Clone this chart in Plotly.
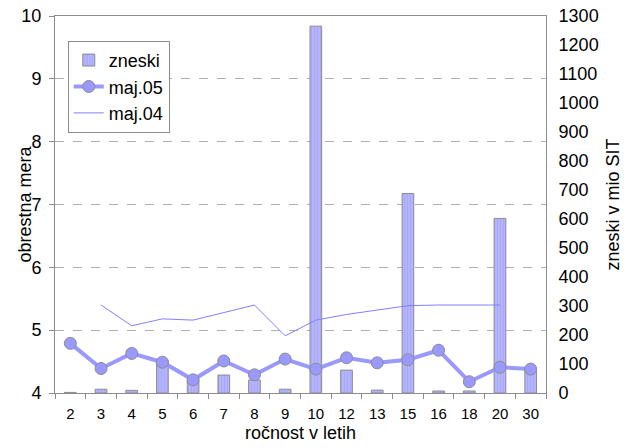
import plotly.graph_objects as go

categories = ["2", "3", "4", "5", "6", "7", "8", "9", "10", "12", "13", "15", "16", "18", "20", "30"]
zneski = [2, 13, 9, 110, 45, 62, 45, 13, 1265, 79, 10, 688, 7, 7, 602, 76]
maj05 = [4.79, 4.39, 4.63, 4.49, 4.21, 4.51, 4.29, 4.54, 4.38, 4.56, 4.48, 4.53, 4.68, 4.18, 4.41, 4.38]
maj04 = [None, 5.40, 5.07, 5.18, 5.16, 5.28, 5.40, 4.91, 5.16, 5.25, 5.32, 5.39, 5.40, 5.40, 5.40, None]

left_ticks = [4, 5, 6, 7, 8, 9, 10]
right_ticks = list(range(0, 1301, 100))

FONT = "Liberation Sans, Arial, sans-serif"
GRAY = "#8c8c8c"

fig = go.Figure()
fig.add_trace(go.Bar(
    x=categories, y=zneski, name="zneski", yaxis="y",
    width=0.38,
    marker=dict(color="#b0b0ff", line=dict(color=GRAY, width=1),
                pattern=dict(shape="|", fgcolor="#9a9af5", bgcolor="#b4b4ff", size=3, solidity=0.3)),
))
fig.add_trace(go.Scatter(
    x=categories, y=maj05, name="maj.05", yaxis="y2", mode="lines+markers",
    line=dict(color="#9999ff", width=4),
    marker=dict(size=12, color="#9999ff", line=dict(color=GRAY, width=1)),
))
fig.add_trace(go.Scatter(
    x=categories, y=maj04, name="maj.04", yaxis="y2", mode="lines",
    line=dict(color="#8080ff", width=1),
))

fig.update_layout(
    width=632, height=448,
    margin=dict(l=55, r=86, t=16, b=55, autoexpand=False),
    paper_bgcolor="white", plot_bgcolor="white",
    font=dict(family=FONT, size=18, color="black"),
    showlegend=True,
    legend=dict(x=0.026, y=0.934, xanchor="left", yanchor="top",
                bordercolor=GRAY, borderwidth=1, bgcolor="white",
                font=dict(size=18), tracegroupgap=0, itemwidth=30),
    xaxis=dict(type="category", categoryorder="array", categoryarray=categories,
               range=[-0.5, len(categories) - 0.5],
               showline=True, linecolor=GRAY, linewidth=1, mirror=True,
               ticks="outside", tickson="boundaries", ticklen=5, tickcolor=GRAY,
               tickfont=dict(size=15), ticklabelstandoff=7,
               showgrid=False, automargin=False,
               title=dict(text="ročnost v letih", font=dict(size=18), standoff=5)),
    yaxis=dict(side="right", range=[0, 1300], tickvals=right_ticks,
               showline=True, linecolor=GRAY, linewidth=1, showgrid=False,
               ticks="", tickfont=dict(size=18), ticklabelstandoff=8,
               ticklabeloverflow="allow", zeroline=False, automargin=False,
               title=dict(text="zneski v mio SIT", font=dict(size=18), standoff=8)),
    yaxis2=dict(side="left", overlaying="y", range=[4, 10], tickvals=left_ticks,
                showline=True, linecolor=GRAY, linewidth=1,
                showgrid=True, gridcolor="#b0b0b0", griddash="dash", gridwidth=1,
                ticks="outside", ticklen=5, tickcolor=GRAY, tickfont=dict(size=18),
                ticklabelstandoff=4, ticklabeloverflow="allow",
                zeroline=False, automargin=False),
    bargap=0.6,
)
fig.add_annotation(text="obrestna mera", xref="paper", yref="paper", x=0, y=0.5,
                   xshift=-31, textangle=-90, showarrow=False,
                   xanchor="center", yanchor="middle", font=dict(size=18))

fig.write_html("out.html", config={"displayModeBar": False},
               post_script="document.body.style.margin='0';")
